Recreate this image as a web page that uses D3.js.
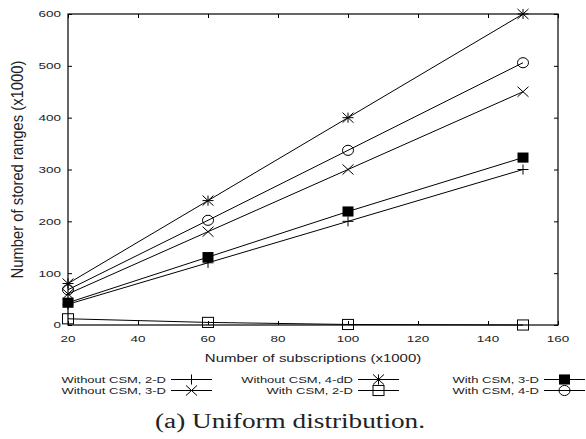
<!DOCTYPE html>
<html>
<head>
<meta charset="utf-8">
<script src="https://cdn.jsdelivr.net/npm/d3@7"></script>
<style>
  body { margin: 0; background: #fff; }
  text { font-family: Arial, "Liberation Sans", sans-serif; fill: #222; }
</style>
</head>
<body>
<div id="chart"></div>
<script>
// data
const subscriptions = [20, 60, 100, 150];
const without2D = [40, 120, 200, 300];
const without3D = [60, 180, 300, 450];
const without4D = [80, 240, 400, 600];
const with2D = [12, 5, 1, 0];
const with3D = [43, 131, 219, 323];
const with4D = [68, 202, 337, 506];
const xTicks = [20, 40, 60, 80, 100, 120, 140, 160];
const yTicks = [0, 100, 200, 300, 400, 500, 600];

const series = [
  { name: "Without CSM, 2-D", values: without2D, mark: "plus" },
  { name: "Without CSM, 3-D", values: without3D, mark: "cross" },
  { name: "Without CSM, 4-dD", values: without4D, mark: "star" },
  { name: "With CSM, 2-D", values: with2D, mark: "square" },
  { name: "With CSM, 3-D", values: with3D, mark: "filled" },
  { name: "With CSM, 4-D", values: with4D, mark: "circle" }
];

const W = 586, H = 439;
const margin = { top: 14, right: 28, bottom: 114, left: 68 };
const width = W - margin.left - margin.right,
  height = H - margin.top - margin.bottom;
const squash = 0.72; // text in the figure is flattened vertically

const svg = d3.select("#chart").append("svg")
  .attr("width", W).attr("height", H);
const g = svg.append("g")
  .attr("transform", `translate(${margin.left},${margin.top})`);

const x = d3.scaleLinear().domain([20, 160]).range([0, width]);
const y = d3.scaleLinear().domain([0, 600]).range([height, 0]);

// axes: ticks pointing inwards, mirrored on top/right
const tk = 4;
g.append("g").attr("transform", `translate(0,${height})`)
  .call(d3.axisBottom(x).tickValues(xTicks).tickSizeInner(-tk).tickSizeOuter(0).tickFormat(""));
g.append("g")
  .call(d3.axisLeft(y).tickValues(yTicks).tickSizeInner(-tk).tickSizeOuter(0).tickFormat(""));
g.append("g")
  .call(d3.axisTop(x).tickValues(xTicks).tickSizeInner(-tk).tickSizeOuter(0).tickFormat(""));
g.append("g").attr("transform", `translate(${width},0)`)
  .call(d3.axisRight(y).tickValues(yTicks).tickSizeInner(-tk).tickSizeOuter(0).tickFormat(""));
g.selectAll(".domain").remove();
g.selectAll(".tick line").attr("stroke", "#000");

// tick labels (flattened like the original)
g.selectAll(".xlab").data(xTicks).join("text")
  .attr("class", "xlab")
  .attr("transform", d => `translate(${x(d)},${height + 17}) scale(1,${squash})`)
  .attr("text-anchor", "middle").style("font-size", "13.5px")
  .text(d => d);
g.selectAll(".ylab").data(yTicks).join("text")
  .attr("class", "ylab")
  .attr("transform", d => `translate(-7,${y(d) + 3.4}) scale(1,${squash})`)
  .attr("text-anchor", "end").style("font-size", "13.5px")
  .text(d => d);

g.append("rect").attr("width", width).attr("height", height)
  .attr("fill", "none").attr("stroke", "#000").attr("stroke-width", 1.2);

// axis titles
g.append("text")
  .attr("transform", `translate(${width / 2},${height + 37}) scale(1,${squash})`)
  .attr("text-anchor", "middle").style("font-size", "15px")
  .text("Number of subscriptions (x1000)");
svg.append("text")
  .attr("transform", `translate(23,${margin.top + height / 2}) rotate(-90) scale(1,1.15)`)
  .attr("text-anchor", "middle").style("font-size", "14.8px")
  .text("Number of stored ranges (x1000)");

// marker drawing
function drawMark(sel, type, s) {
  const sy = s * 0.92;
  if (type === "plus") {
    sel.append("path").attr("d", `M${-s},0H${s}M0,${-sy}V${sy}`).attr("stroke", "#000").attr("fill", "none");
  } else if (type === "cross") {
    sel.append("path").attr("d", `M${-s},${-sy}L${s},${sy}M${-s},${sy}L${s},${-sy}`).attr("stroke", "#000").attr("fill", "none");
  } else if (type === "star") {
    sel.append("path").attr("d", `M${-s},0H${s}M0,${-sy}V${sy}M${-s},${-sy}L${s},${sy}M${-s},${sy}L${s},${-sy}`).attr("stroke", "#000").attr("fill", "none");
  } else if (type === "square") {
    sel.append("rect").attr("x", -s).attr("y", -sy).attr("width", 2 * s).attr("height", 2 * sy)
      .attr("fill", "none").attr("stroke", "#000");
  } else if (type === "filled") {
    sel.append("rect").attr("x", -s).attr("y", -sy).attr("width", 2 * s).attr("height", 2 * sy)
      .attr("fill", "#000");
  } else if (type === "circle") {
    sel.append("ellipse").attr("rx", s).attr("ry", sy).attr("fill", "none").attr("stroke", "#000");
  }
}

const line = d3.line().x((d, i) => x(subscriptions[i])).y(d => y(d));
const plot = g.append("g");
series.forEach(sr => {
  plot.append("path").attr("d", line(sr.values))
    .attr("fill", "none").attr("stroke", "#000").attr("stroke-width", 1);
  sr.values.forEach((v, i) => {
    const m = plot.append("g").attr("transform", `translate(${x(subscriptions[i])},${y(v)})`);
    drawMark(m, sr.mark, 5.5);
  });
});

// legend: 3 columns x 2 rows, label right-aligned before sample
const legendCols = [166, 353, 539];
const legendRows = [383, 394];
series.forEach((sr, k) => {
  const cx = legendCols[Math.floor(k / 2)], cy = legendRows[k % 2];
  svg.append("text")
    .attr("transform", `translate(${cx},${cy}) scale(1,${squash})`)
    .attr("text-anchor", "end").style("font-size", "13px").text(sr.name);
  const ly = cy - 3.5;
  svg.append("line").attr("x1", cx + 5).attr("x2", cx + 46).attr("y1", ly).attr("y2", ly)
    .attr("stroke", "#000");
  const m = svg.append("g").attr("transform", `translate(${cx + 25.5},${ly})`);
  drawMark(m, sr.mark, 5.5);
});

// caption
svg.append("text").attr("x", 290).attr("y", 428)
  .attr("text-anchor", "middle")
  .attr("textLength", 270).attr("lengthAdjust", "spacingAndGlyphs")
  .style("font-family", "'Liberation Serif', 'DejaVu Serif', serif")
  .style("font-size", "20px").attr("fill", "#111")
  .text("(a) Uniform distribution.");
</script>
</body>
</html>
